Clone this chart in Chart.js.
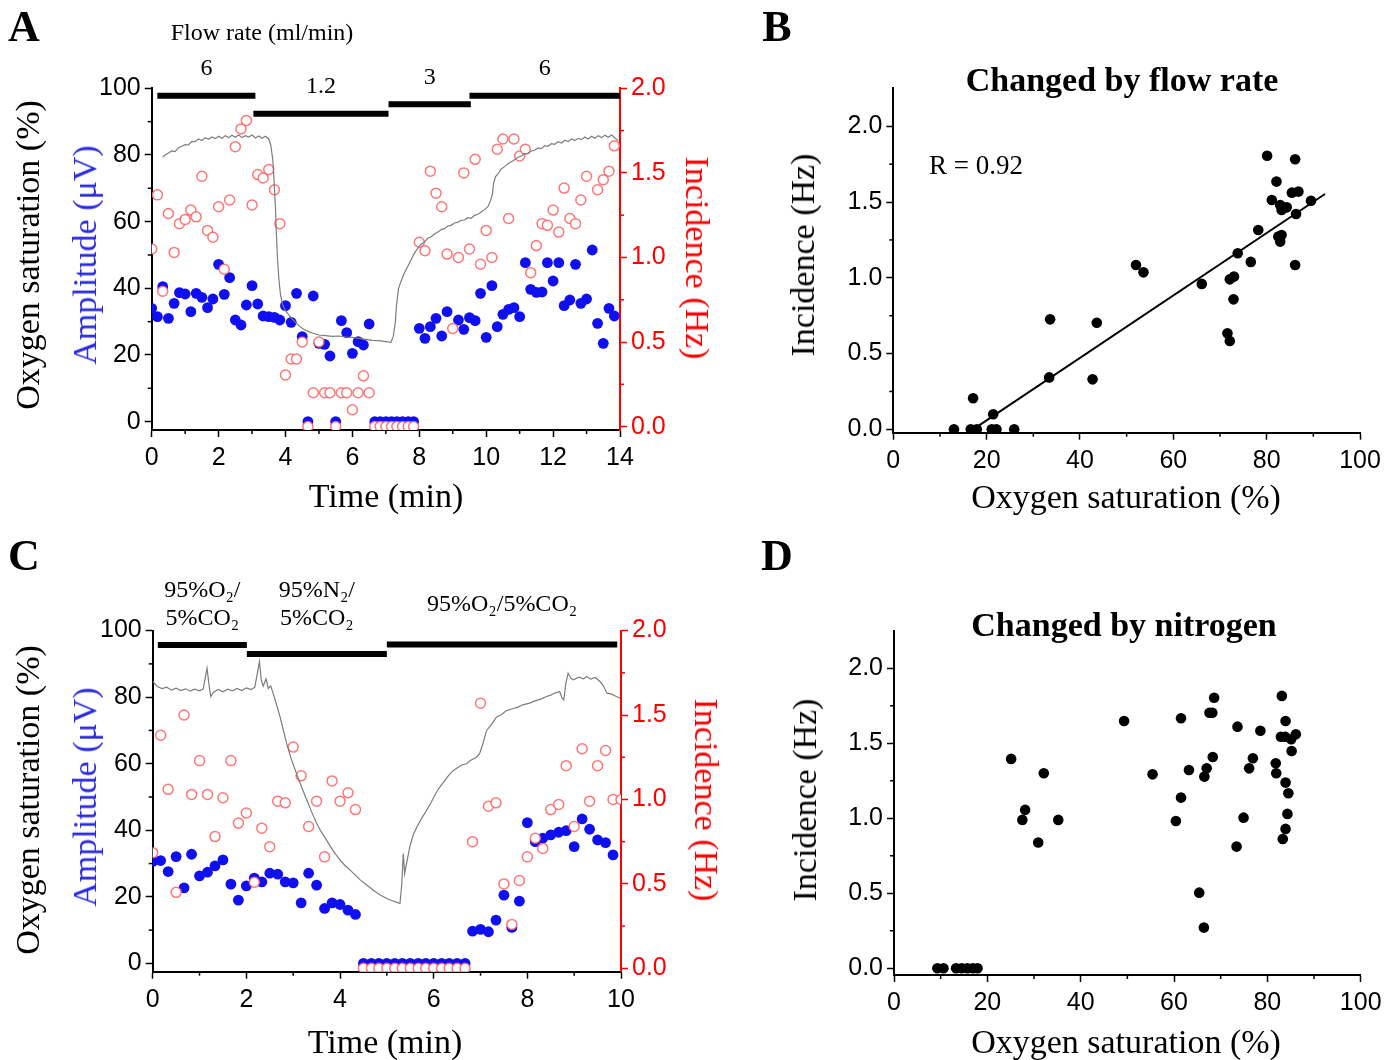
<!DOCTYPE html>
<html>
<head>
<meta charset="utf-8">
<title>Oxygen saturation, amplitude and incidence</title>
<script src="https://cdn.jsdelivr.net/npm/chart.js@4.4.1/dist/chart.umd.min.js"></script>
<style>
  html, body { margin: 0; padding: 0; background: #fff; }
  #page { position: relative; width: 1400px; height: 1060px; overflow: hidden;
          font-family: 'Liberation Serif', 'Times New Roman', serif; color: #000; }
  canvas { position: absolute; }
  .t { position: absolute; white-space: nowrap; line-height: 1; transform: translate(-50%, -50%); }
  .up { transform: translate(-50%, -50%) rotate(-90deg); }
  .down { transform: translate(-50%, -50%) rotate(90deg); }
  .letter { font-size: 44px; font-weight: bold; }
  .ax { font-size: 34px; }
  .ttl { font-size: 34px; font-weight: bold; }
  .blue { color: #2a2ae0; }
  .red { color: #ff0000; }
</style>
</head>
<body>
<div id="page">
  <canvas id="chartA" width="720" height="530" style="left:0;top:0"></canvas>
  <canvas id="chartB" width="680" height="530" style="left:720px;top:0"></canvas>
  <canvas id="chartC" width="720" height="530" style="left:0;top:530px"></canvas>
  <canvas id="chartD" width="680" height="530" style="left:720px;top:530px"></canvas>

  <div class="t letter" style="left:24px;top:27px">A</div>
  <div class="t" style="left:262px;top:32px;font-size:24px">Flow rate (ml/min)</div>
  <div class="t ax up" style="left:28px;top:255px">Oxygen saturation (%)</div>
  <div class="t ax up blue" style="left:85px;top:255px">Amplitude (μV)</div>
  <div class="t ax down red" style="left:697px;top:258px">Incidence (Hz)</div>
  <div class="t ax" style="left:386px;top:496px">Time (min)</div>

  <div class="t letter" style="left:777px;top:27px">B</div>
  <div class="t ttl" style="left:1122px;top:80px">Changed by flow rate</div>
  <div class="t" style="left:976px;top:165px;font-size:27px">R = 0.92</div>
  <div class="t ax up" style="left:803px;top:255px">Incidence (Hz)</div>
  <div class="t ax" style="left:1126px;top:497px">Oxygen saturation (%)</div>

  <div class="t letter" style="left:24px;top:556px">C</div>
  <div class="t ax up" style="left:28px;top:800px">Oxygen saturation (%)</div>
  <div class="t ax up blue" style="left:85px;top:797px">Amplitude (μV)</div>
  <div class="t ax down red" style="left:706px;top:800px">Incidence (Hz)</div>
  <div class="t ax" style="left:385px;top:1042px">Time (min)</div>

  <div class="t letter" style="left:777px;top:556px">D</div>
  <div class="t ttl" style="left:1124px;top:625px">Changed by nitrogen</div>
  <div class="t ax up" style="left:805px;top:800px">Incidence (Hz)</div>
  <div class="t ax" style="left:1126px;top:1042px">Oxygen saturation (%)</div>
</div>

<script>
// ---- Panel A: flow rate experiment ----
var timeA = [0,0.17,0.33,0.5,0.67,0.83,1,1.17,1.33,1.5,1.67,1.83,2,2.17,2.33,2.5,2.67,2.83,3,3.17,3.33,3.5,3.67,3.83,
  4,4.17,4.33,4.5,4.67,4.83,5,5.17,5.33,5.5,5.67,5.83,6,6.17,6.33,6.5,6.67,6.83,7,7.17,7.33,7.5,7.67,7.83,
  8,8.17,8.33,8.5,8.67,8.83,9,9.17,9.33,9.5,9.67,9.83,10,10.17,10.33,10.5,10.67,10.83,11,11.17,11.33,11.5,11.67,11.83,
  12,12.17,12.33,12.5,12.67,12.83,13,13.17,13.33,13.5,13.67,13.83];
var ampA = [34,31.5,40.5,31,35.5,38.7,38.3,33,38.5,37.3,34.2,36.8,47.2,38.2,43.2,30.5,29,35,40.8,35.3,31.7,31.5,31.3,30.5,
  34.8,29.8,38.5,25.5,0,37.7,23.5,23.2,19.7,0,30.3,26.7,20.5,24,23,29.3,0,0,0,0,0,0,0,0,
  28,25,28.5,31,25.7,33,null,30.5,27.7,31.2,30.3,38.5,25.3,40.8,28.5,32.2,33.7,34.2,31.5,47.7,39.7,38.8,38.9,47.7,
  42.2,47.7,34.8,36.5,47.2,35.5,36.8,51.5,29.5,23.5,34,31.7];
var incA = [1.05,1.37,0.8,1.26,1.03,1.2,1.225,1.28,1.24,1.48,1.16,1.12,1.3,0.93,1.34,1.655,1.76,1.81,1.31,1.49,1.47,1.52,1.4,1.2,
  0.305,0.4,0.4,0.5,0,0.2,0.5,0.2,0.2,0,0.2,0.2,0.1,0.2,0.3,0.2,0,0,0,0,0,0,0,0,
  1.09,1.04,1.51,1.38,1.3,1.02,0.58,1,1.5,1.05,1.58,0.96,1.16,1,1.64,1.7,1.23,1.7,1.6,1.64,0.91,1.07,1.2,1.19,
  1.28,1.15,1.41,1.23,1.2,1.34,1.48,null,1.4,1.46,1.51,1.66];
var satTimeA = [0.33,0.4,0.5,0.6,0.7,0.8,0.9,1,1.1,1.2,1.3,1.4,1.5,1.6,1.7,1.8,1.9,2,2.1,2.2,2.3,2.4,2.5,2.6,2.7,2.8,2.9,3,3.1,3.2,3.3,3.4,3.5,
  3.56,3.62,3.66,3.7,3.73,3.76,3.8,3.85,3.92,4,4.1,4.2,4.3,4.4,4.5,4.6,4.7,4.8,4.9,5,5.2,5.4,5.6,5.8,6,6.2,6.4,6.6,6.8,7,
  7.15,7.22,7.28,7.32,7.38,7.45,7.55,7.65,7.75,7.85,7.95,8.05,8.15,8.25,8.35,8.45,8.55,8.65,8.75,8.85,8.95,9.05,9.15,9.25,
  9.35,9.45,9.55,9.65,9.75,9.85,9.95,10.05,10.12,10.18,10.22,10.28,10.35,10.45,10.55,10.65,10.75,10.85,10.95,11.05,11.15,
  11.25,11.35,11.45,11.55,11.65,11.75,11.85,11.95,12.05,12.15,12.25,12.35,12.45,12.55,12.65,12.75,12.85,12.95,13.05,13.15,
  13.25,13.35,13.45,13.55,13.65,13.75,13.85,13.95];
var satA = [79.3,80,80.6,81.2,81,82.2,82.6,83.1,83,84.1,84,84.8,84.3,85.2,84.7,85.4,84.9,85.6,85,85.8,85.2,85.9,85.3,86,85.2,85.8,85.4,86,85.1,85.7,85,85.6,84.8,
  83,78.5,72,64,56,49,43,38,35,33.2,32,30.8,29.8,28.8,28,27.4,27,26.6,26.3,26,25.8,25.6,25.7,25.4,25.3,25,24.7,24.4,24.3,24,
  23.8,25.5,29.5,35,40,42,44.5,46.5,48.5,50.5,52,53.2,53.8,55,55.4,56.3,56.8,57.6,57.9,58.7,58.9,59.6,59.8,60.4,
  60.5,61.2,61,61.9,62.2,62.9,63.6,64.5,66,68,71.5,73.5,74.3,75.8,76.5,77.4,78,78.6,79.3,79.7,80.4,
  80.5,81.2,81.4,82.1,81.9,82.8,82.6,83.4,83.2,84,83.6,84.4,84,84.8,84.3,85,84.6,85.4,84.8,85.6,
  85,85.8,85.2,85.9,85.3,86,85.1,84.3];
var flowRates = ['6', '1.2', '3', '6'];
var flowStart = [0.17, 3.04, 7.08, 9.5];
var flowEnd = [3.1, 7.08, 9.54, 14];

// ---- Panel C: gas switch experiment ----
var timeC = [0,0.17,0.33,0.5,0.67,0.83,1,1.17,1.33,1.5,1.67,1.83,2,2.17,2.33,2.5,2.67,2.83,3,3.17,3.33,3.5,3.67,3.83,4,4.17,4.33,
  4.5,4.67,4.83,5,5.17,5.33,5.5,5.67,5.83,6,6.17,6.33,6.5,6.67,
  6.83,7,7.17,7.33,7.5,7.67,7.83,8,8.17,8.33,8.5,8.67,8.83,9,9.17,9.33,9.5,9.67,9.83,10];
var ampC = [30.6,30.9,27.6,32.1,22.7,32.8,26.3,27.4,29.3,31.1,23.8,19,23.3,25.6,24.5,27.1,26.8,24.5,24.2,18.2,27.1,23.5,16.5,18.2,17.7,16,14.7,
  0,0,0,0,0,0,0,0,0,0,0,0,0,0,
  9.7,10.2,9.5,13,20.5,10.8,18.7,42.3,36.6,37.6,38.6,39.4,39.9,35.1,43.4,40.3,37.1,36.3,32.6,null];
var incC = [0.685,1.38,1.06,0.45,1.5,1.03,1.23,1.03,0.78,1.01,1.23,0.86,0.92,0.51,0.83,0.72,0.99,0.98,1.31,1.14,0.84,0.99,0.66,1.11,0.99,1.04,0.94,
  0,0,0,0,0,0,0,0,0,0,0,0,0,0,
  0.75,1.57,0.96,0.98,0.5,0.26,0.52,0.66,0.77,0.71,0.94,0.97,1.2,0.84,1.3,0.99,1.2,1.29,1,1];
var satTimeC = [0,0.1,0.2,0.3,0.4,0.5,0.6,0.7,0.8,0.9,1,1.08,1.13,1.16,1.2,1.24,1.3,1.4,1.5,1.6,1.7,1.8,1.9,2,2.1,
  2.18,2.24,2.28,2.32,2.36,2.42,2.47,2.52,2.57,2.65,2.72,2.8,2.86,2.95,3.07,3.18,3.29,3.4,3.5,3.6,3.71,3.8,3.9,4,4.1,
  4.21,4.3,4.43,4.55,4.71,4.85,5,5.1,5.2,5.28,5.32,5.35,5.38,5.42,5.49,5.56,5.64,5.74,5.85,5.95,6.05,6.13,6.22,6.32,
  6.42,6.5,6.6,6.7,6.8,6.9,6.98,7.05,7.13,7.22,7.34,7.45,7.55,7.7,7.8,7.9,8.05,8.15,8.3,8.41,8.5,8.6,8.69,8.74,8.78,
  8.82,8.87,8.93,8.98,9.1,9.2,9.27,9.35,9.45,9.55,9.62,9.7,9.8,9.9,9.98];
var satC = [84.7,83.2,82.6,83,82.1,82.7,82,82.5,81.8,82.4,81.9,82.5,86.5,88.7,84,80.2,81.5,82.3,81.6,82.4,81.9,82.6,82,82.8,82.3,
  83,87.5,90.7,85,83.3,85.5,82.6,83.4,81.2,77.5,74.1,69.5,66.1,61.8,57.1,53,49.1,45.3,42.1,39.5,37.1,35,32.9,31.1,29.5,
  28.1,26.9,25.1,23.8,22,20.6,19.5,18.9,18.4,18,24,33,27,30,35,38.5,41,43.5,46,48.5,51.2,53,54.6,56.5,
  58,58.7,59.6,60,61.1,61.8,63,66,70,71.5,74,74.8,75.9,76.6,77,77.7,78.2,78.8,79.5,80.2,80.6,81.3,81.7,79.8,79.2,
  84,87.2,85.7,85.2,86,85.5,86.2,85.4,85.9,84.7,83.5,81.2,80.9,80.2,79.7];
var gasLabels = [['95%O₂/', '5%CO₂'], ['95%N₂/', '5%CO₂'], ['95%O₂/5%CO₂']];
var gasStart = [0.11, 2.01, 5.0];
var gasEnd = [2.01, 5.0, 9.92];

// ---- Panel B: incidence vs saturation (flow rate) ----
var satB = [13,16.6,17.9,17.1,21.4,21.1,22.1,25.9,33.4,33.6,42.7,43.6,52,53.6,66.1,71.6,72.1,72.1,73,72.9,
  73.8,76.6,78.2,80.1,81.1,82.1,82.9,83.2,84.3,82.5,83.2,82.9,85.4,86.8,86.1,86.3,86.1,89.5];
var incB = [0,0,0,0.205,0.1,0,0,0,0.343,0.726,0.33,0.704,1.085,1.036,0.96,0.634,0.583,0.99,1.008,0.858,
  1.162,1.105,1.316,1.806,1.514,1.635,1.48,1.448,1.465,1.272,1.283,1.239,1.562,1.569,1.782,1.421,1.085,1.509];
var fitX = [17.1, 92.5];
var fitY = [0, 1.553];

// ---- Panel D: incidence vs saturation (nitrogen) ----
var satD = [9.3,10.6,13.3,14.5,15.7,16.9,17.9,25.1,28.1,27.5,30.9,32.1,35.2,49.3,55.4,60.4,61.5,61.5,63.2,65.4,
  66.4,66.5,67,67.6,68.2,68.3,68.6,73.4,73.6,74.9,76.1,76.9,78.5,81.8,81.9,82.9,83.1,83.3,83.9,83.9,
  83.9,84.5,84.3,83.8,85.1,85.2,86.1];
var incD = [0,0,0,0,0,0,0,1.396,1.056,0.989,0.838,1.3,0.989,1.649,1.293,0.982,1.138,1.667,1.322,0.504,
  0.271,1.278,1.333,1.704,1.704,1.409,1.804,0.811,1.611,1.004,1.333,1.4,1.584,1.367,1.3,1.544,1.816,0.862,1.649,1.238,
  0.929,1.167,1.029,1.544,1.527,1.449,1.56];

// tick values
var timeTicksA = [0, 2, 4, 6, 8, 10, 12, 14];
var timeMinorA = [1, 3, 5, 7, 9, 11, 13];
var timeTicksC = [0, 2, 4, 6, 8, 10];
var timeMinorC = [1, 3, 5, 7, 9];
var pctTicks = [0, 20, 40, 60, 80, 100];
var pctMinor = [10, 30, 50, 70, 90];
var hzTicks = [0, 0.5, 1, 1.5, 2];
var hzMinor = [0.25, 0.75, 1.25, 1.75];
var satTicks = [0, 20, 40, 60, 80, 100];
var satMinor = [10, 30, 50, 70, 90];

// layout (not data): vertical level of the condition bars, left-axis units
var flowLevel = [97.8, 92.4, 95.2, 97.8];
var gasLevel = [95.7, 93.0, 95.8];

var tickFont = { family: "'Liberation Sans', Arial, sans-serif", size: 25 };
var RED = '#ff0000';
var DOT_BLUE = '#0f0ff2';
var RING_RED = 'rgba(255,95,95,0.85)';

function axis(o) {
  return {
    type: 'linear', position: o.pos, min: o.min, max: o.max,
    afterBuildTicks: function (s) { s.ticks = o.ticks.map(function (v) { return { value: v }; }); },
    afterFit: function (s) { if (o.pos === 'bottom') s.height = o.size; else s.width = o.size; },
    ticks: {
      color: o.color, font: tickFont, padding: o.pos === 'bottom' ? 6 : 4,
      autoSkip: false, maxRotation: 0,
      callback: function (v) { return o.dec ? Number(v).toFixed(o.dec) : String(v); }
    },
    grid: { display: true, drawOnChartArea: false, drawTicks: true, tickLength: 7, tickWidth: 1.5,
            tickColor: o.color, color: o.color },
    border: { display: true, color: o.color, width: 2 }
  };
}

function minorTicks(list) {
  return {
    id: 'minorTicks',
    afterDraw: function (chart) {
      var ctx = chart.ctx;
      ctx.save();
      ctx.lineWidth = 1.5;
      list.forEach(function (a) {
        var s = chart.scales[a.id];
        ctx.strokeStyle = a.color;
        a.values.forEach(function (v) {
          var p = s.getPixelForValue(v);
          ctx.beginPath();
          if (s.isHorizontal()) { ctx.moveTo(p, s.top); ctx.lineTo(p, s.top + 4); }
          else if (s.position === 'left') { ctx.moveTo(s.right, p); ctx.lineTo(s.right - 4, p); }
          else { ctx.moveTo(s.left, p); ctx.lineTo(s.left + 4, p); }
          ctx.stroke();
        });
      });
      ctx.restore();
    }
  };
}

// text above each condition bar
function segLabels(labels, starts, ends, yOf) {
  return {
    id: 'segLabels',
    afterDraw: function (chart) {
      var ctx = chart.ctx, xs = chart.scales.x;
      ctx.save();
      ctx.font = "24px 'Liberation Serif', 'Times New Roman', serif";
      ctx.fillStyle = '#000';
      ctx.textAlign = 'center';
      ctx.textBaseline = 'middle';
      labels.forEach(function (lines, i) {
        if (!Array.isArray(lines)) lines = [lines];
        var cx = (xs.getPixelForValue(starts[i]) + xs.getPixelForValue(ends[i])) / 2;
        var cy = yOf(chart, i);
        lines.forEach(function (ln, k) {
          ctx.fillText(ln, cx, cy + (k - (lines.length - 1) / 2) * 28);
        });
      });
      ctx.restore();
    }
  };
}

function pts(xs, ys) {
  return xs.map(function (x, i) { return { x: x, y: ys[i] }; });
}

function barSets(starts, ends, levels) {
  return starts.map(function (s, i) {
    return { type: 'line', data: [{ x: s, y: levels[i] }, { x: ends[i], y: levels[i] }], yAxisID: 'y',
             borderColor: '#000', borderWidth: 6, borderCapStyle: 'butt', pointRadius: 0, order: 0 };
  });
}

function timeSets(t, amp, inc, st, sat) {
  return [
    { type: 'line', data: pts(st, sat), yAxisID: 'y', borderColor: '#7c7c7c', borderWidth: 1.2,
      pointRadius: 0, order: 1 },
    { type: 'scatter', data: pts(t, inc), yAxisID: 'y2', pointRadius: 5, borderWidth: 1.5,
      borderColor: RING_RED, backgroundColor: '#ffffff', order: 2 },
    { type: 'scatter', data: pts(t, amp), yAxisID: 'y', pointRadius: 5.4, borderWidth: 0,
      backgroundColor: DOT_BLUE, order: 3 }
  ];
}

var common = {
  responsive: false, animation: false, events: [], devicePixelRatio: 1,
  plugins: { legend: { display: false }, tooltip: { enabled: false } }
};

function timeChart(id, t, amp, inc, st, sat, xmax, xt, xm, bars, plug, box) {
  return new Chart(document.getElementById(id), {
    type: 'scatter',
    data: { datasets: timeSets(t, amp, inc, st, sat).concat(bars) },
    options: Object.assign({}, common, {
      layout: { padding: { top: box.top, left: 0, right: 0, bottom: 0 } },
      scales: {
        x: axis({ pos: 'bottom', min: 0, max: xmax, ticks: xt, size: box.xh, color: '#000' }),
        y: axis({ pos: 'left', min: -2.5, max: 100, ticks: pctTicks, size: box.yw, color: '#000' }),
        y2: axis({ pos: 'right', min: -0.02, max: 2, ticks: hzTicks, size: box.y2w, color: RED, dec: 1 })
      }
    }),
    plugins: [minorTicks([
      { id: 'x', values: xm, color: '#000' },
      { id: 'y', values: pctMinor, color: '#000' },
      { id: 'y2', values: hzMinor, color: RED }
    ]), plug]
  });
}

timeChart('chartA', timeA, ampA, incA, satTimeA, satA, 14, timeTicksA, timeMinorA,
  barSets(flowStart, flowEnd, flowLevel),
  segLabels(flowRates, flowStart, flowEnd, function (chart, i) {
    return chart.scales.y.getPixelForValue(flowLevel[i]) - 27;
  }),
  { top: 88.3, xh: 100, yw: 151.7, y2w: 100 });

timeChart('chartC', timeC, ampC, incC, satTimeC, satC, 10, timeTicksC, timeMinorC,
  barSets(gasStart, gasEnd, gasLevel),
  segLabels(gasLabels, gasStart, gasEnd, function (chart) { return chart.chartArea.top - 26; }),
  { top: 100.6, xh: 88.3, yw: 152.7, y2w: 99 });

function scatterChart(id, sx, sy, extra, box) {
  return new Chart(document.getElementById(id), {
    type: 'scatter',
    data: { datasets: [
      { data: pts(sx, sy), pointRadius: 5.3, borderWidth: 0, backgroundColor: '#000', order: 1 }
    ].concat(extra) },
    options: Object.assign({}, common, {
      layout: { padding: { top: box.top, left: 0, right: box.right, bottom: 0 } },
      scales: {
        x: axis({ pos: 'bottom', min: 0, max: 100, ticks: satTicks, size: box.xh, color: '#000' }),
        y: axis({ pos: 'left', min: box.ymin, max: 2.25, ticks: hzTicks, size: box.yw, color: '#000', dec: 1 })
      }
    }),
    plugins: [minorTicks([
      { id: 'x', values: satMinor, color: '#000' },
      { id: 'y', values: hzMinor, color: '#000' }
    ])]
  });
}

scatterChart('chartB', satB, incB,
  [{ type: 'line', data: pts(fitX, fitY), borderColor: '#000', borderWidth: 2, pointRadius: 0, order: 0 }],
  { top: 88.4, right: 40, xh: 97.3, yw: 173.3, ymin: -0.022 });

scatterChart('chartD', satD, incD, [],
  { top: 100.8, right: 39.3, xh: 85, yw: 174, ymin: -0.045 });
</script>
</body>
</html>
